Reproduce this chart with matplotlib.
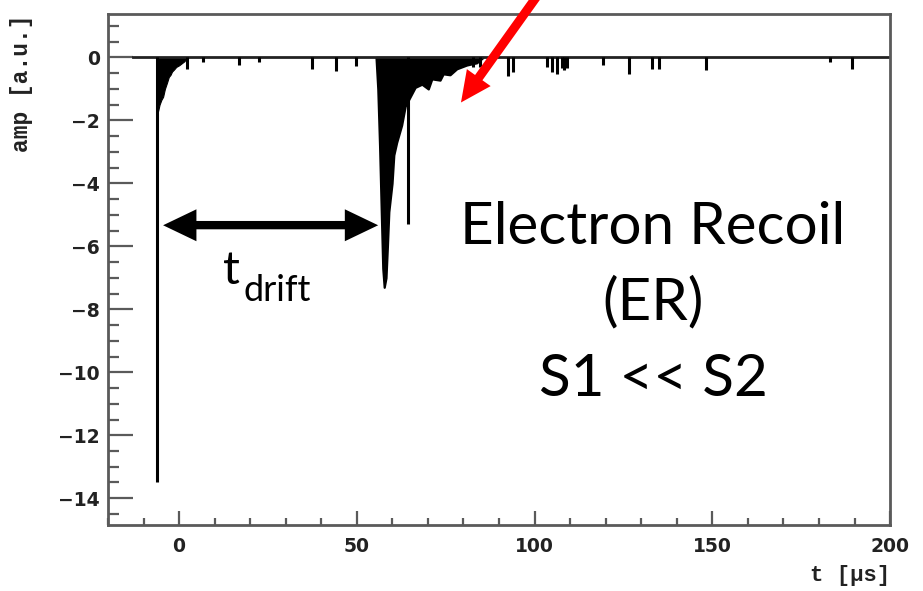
import matplotlib
matplotlib.use("Agg")
import matplotlib.pyplot as plt
from matplotlib.ticker import MultipleLocator, FuncFormatter

# waveform (t in us, amp in a.u.)
base_t = [-13.0, 200.0]

s1_t = [-6.2, -5.9, -5.5, -5.0, -4.5, -4.0, -3.4, -2.9, -2.4, -2.0, -1.4, -0.8, 0.0, 0.8, 1.5, 2.2]
s1_amp = [-1.75, -1.7, -1.5, -1.35, -1.25, -1.0, -0.8, -0.62, -0.55, -0.45, -0.38, -0.3, -0.25, -0.18, -0.12, 0.0]

s2_t = [55.4, 55.9, 56.4, 56.9, 57.3, 57.7, 58.2, 58.6, 59.0, 59.5, 59.9, 60.4, 61.2, 62.6,
        63.6, 65.0, 66.4, 68.3, 70.1, 71.1, 73.4, 74.3, 76.2, 78.1, 80.9, 83.7, 85.5]
s2_amp = [0.0, -1.0, -2.8, -5.0, -6.7, -7.3, -7.0, -6.0, -4.9, -4.4, -4.0, -3.1, -2.7, -2.15,
          -1.55, -1.25, -0.95, -0.85, -1.0, -0.68, -0.72, -0.52, -0.55, -0.36, -0.24, -0.17, 0.0]

spike_t = [-6.2, 2.2, 6.8, 16.9, 22.5, 37.3, 44.1, 49.7, 64.4, 82.7, 84.6, 92.5, 94.0,
           103.4, 104.8, 106.2, 107.7, 108.4, 109.0, 119.2, 126.5, 132.9, 135.0, 148.2, 183.0, 189.2]
spike_amp = [-13.5, -0.36, -0.15, -0.25, -0.15, -0.36, -0.43, -0.28, -5.3, -0.3, -0.3, -0.6, -0.45,
             -0.3, -0.45, -0.52, -0.35, -0.4, -0.35, -0.25, -0.52, -0.36, -0.36, -0.4, -0.15, -0.36]

drift_start, drift_end, drift_amp = -4.5, 56.0, -5.33
red_tip = (79.3, -1.43)
red_tail = (100.7, 1.95)

note_lines = ['Electron Recoil', '(ER)', 'S1 << S2']
note_t = 133.3
note_amp = [-5.93, -8.33, -10.74]

plt.rcParams['font.family'] = ['DejaVu Sans']
fig = plt.figure(figsize=(9.23, 5.91), dpi=100)
ax = fig.add_axes([0.117, 0.1117, 0.8473, 0.8646])

frame = '#5a5a5a'
ax.plot(base_t, [0, 0], color='#222222', lw=2.0)
ax.fill_between(s1_t, s1_amp, 0, color='black', lw=0.8)
ax.fill_between(s2_t, s2_amp, 0, color='black', lw=1.6, edgecolor='black')
ax.vlines(spike_t, 0, spike_amp, color='black', lw=2.2)

ax.set_xlim(-20, 200)
ax.set_ylim(-14.85, 1.38)

for s in ax.spines.values():
    s.set_color(frame)
    s.set_linewidth(2)

ax.xaxis.set_major_locator(MultipleLocator(50))
ax.xaxis.set_minor_locator(MultipleLocator(10))
ax.yaxis.set_major_locator(MultipleLocator(2))
ax.yaxis.set_minor_locator(MultipleLocator(0.5))
ax.tick_params(axis='both', which='both', direction='in', color=frame, width=1.6,
               top=False, right=False, labelsize=13.5)
ax.tick_params(axis='x', which='major', length=10, pad=9)
ax.tick_params(axis='x', which='minor', length=5)
ax.tick_params(axis='y', which='major', length=18, pad=6)
ax.tick_params(axis='y', which='minor', length=8)
fmt = FuncFormatter(lambda v, p: ('%d' % v).replace('-', '\u2212'))
ax.xaxis.set_major_formatter(fmt)
ax.yaxis.set_major_formatter(fmt)
for lab in ax.get_xticklabels() + ax.get_yticklabels():
    lab.set_fontweight('bold')
    lab.set_color('#222222')

ax.set_ylabel('amp [a.u.]', family='Liberation Mono', fontweight='bold', fontsize=16.5,
              loc='top', labelpad=18, color='#222222')
ax.set_xlabel('t [\u03bcs]', family='Liberation Mono', fontweight='bold', fontsize=16,
              loc='right', labelpad=6, color='#222222')

# t_drift double arrow: one shaft, two heads
ax.plot([drift_start + 5, drift_end - 5], [drift_amp, drift_amp], color='black',
        lw=5.8, solid_capstyle='butt')
mid = (drift_start + drift_end) / 2
for end, start in ((drift_start, mid), (drift_end, mid)):
    ax.annotate('', xy=(end, drift_amp), xytext=(start, drift_amp),
                arrowprops=dict(arrowstyle='simple,head_length=24,head_width=23,tail_width=5.8',
                                color='black', lw=0, shrinkA=0, shrinkB=0, mutation_scale=1))
ax.text(12.4, -7.19, 't', family='Lato', fontsize=34, va='baseline', ha='left')
ax.text(18.0, -7.73, 'drift', family='Lato', fontsize=26, va='baseline', ha='left')

# red arrow pointing at the S2 tail
ax.annotate('', xy=red_tip, xytext=red_tail, annotation_clip=False,
            arrowprops=dict(arrowstyle='simple,head_length=22,head_width=21,tail_width=6.5',
                            color='red', lw=0, shrinkA=0, shrinkB=0, mutation_scale=1))

for line, a in zip(note_lines, note_amp):
    ax.text(note_t, a, line, family='Lato', fontsize=42, ha='center', va='baseline')

fig.savefig('out.png', dpi=100)
